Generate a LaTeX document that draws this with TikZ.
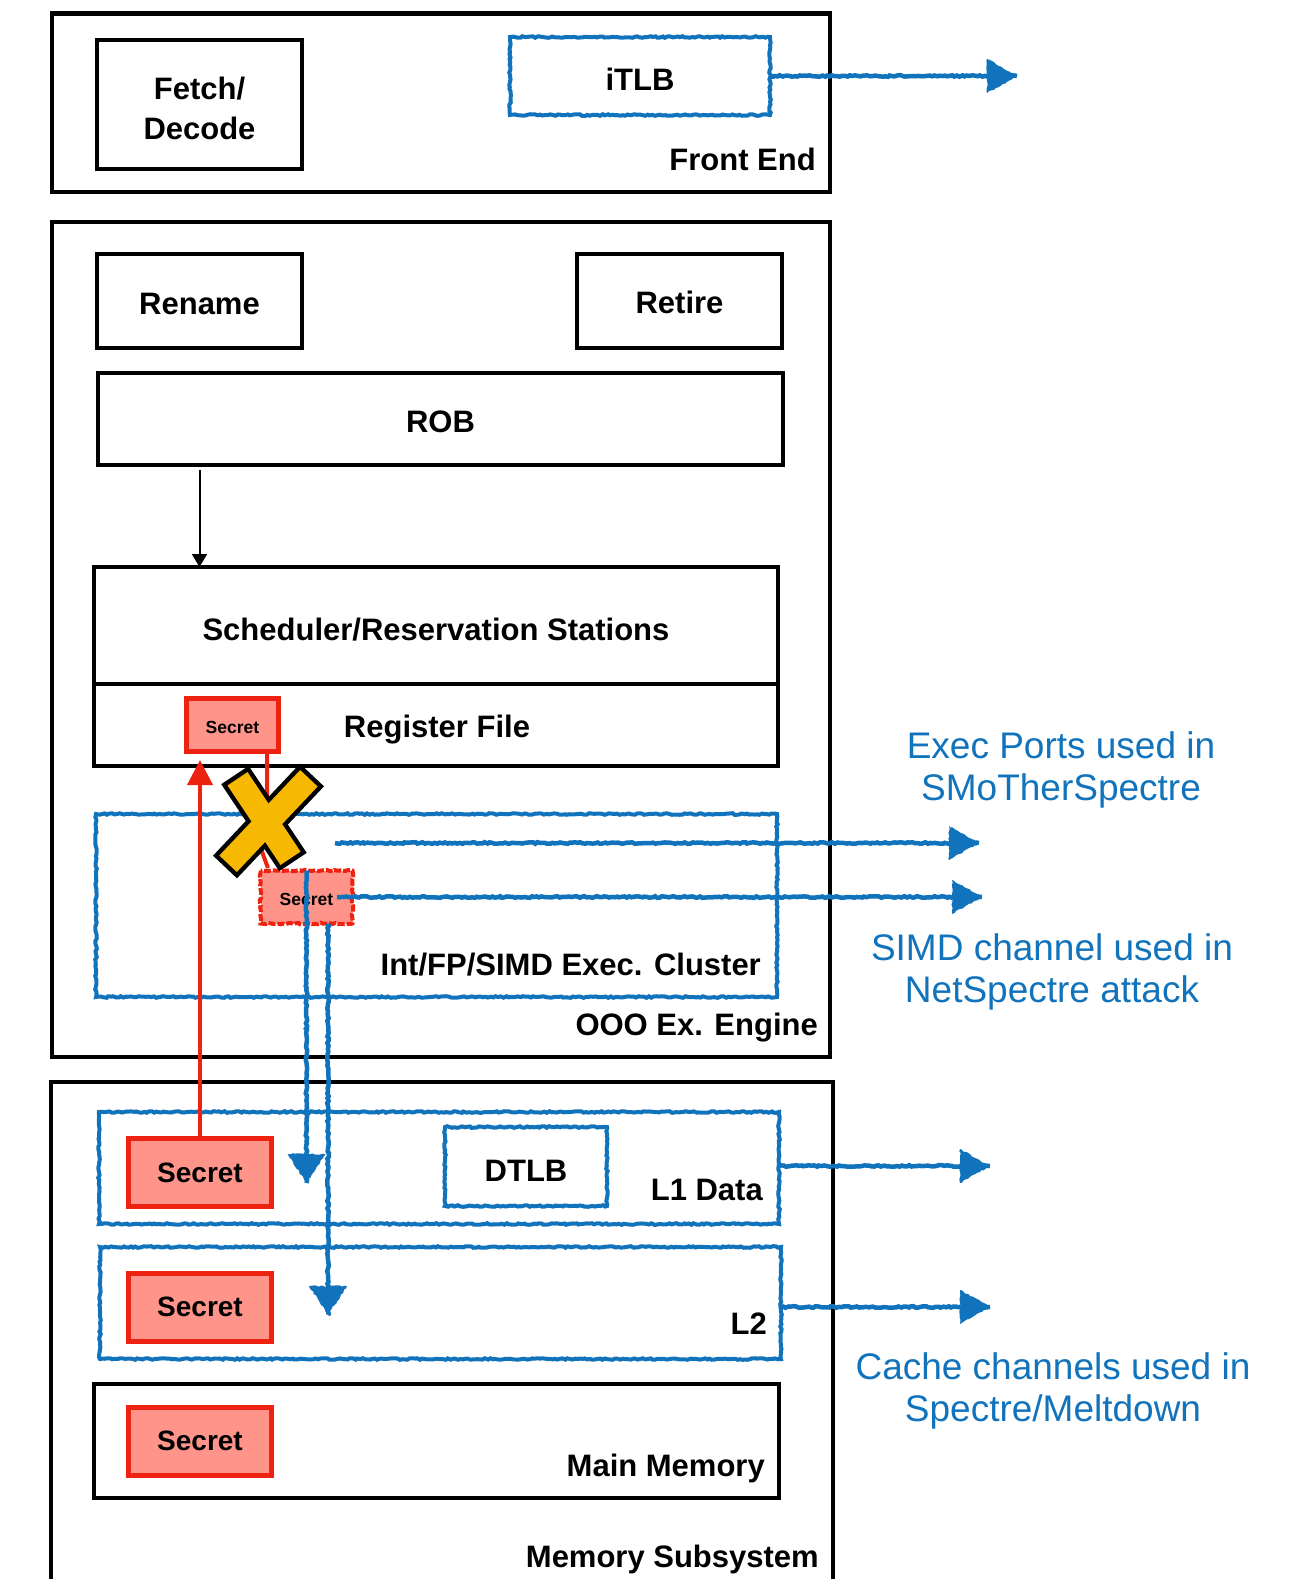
\documentclass[tikz,border=0pt]{standalone}
\usepackage{fontspec}
\setmainfont{Liberation Sans}
\usetikzlibrary{arrows.meta,decorations.pathmorphing,calc}
\definecolor{myblue}{RGB}{17,115,188}
\definecolor{secred}{RGB}{238,34,16}
\definecolor{secfill}{RGB}{255,148,138}
\definecolor{xyellow}{RGB}{246,184,0}
\tikzset{
  lbl/.style={font=\fontsize{31}{40}\selectfont\bfseries},
  cornerlbl/.style={lbl, inner sep=0pt, anchor=base east},
  blk/.style={draw, line width=4.5pt, inner sep=0pt, outer sep=0pt, lbl, align=center},
  rough/.style={decorate, decoration={random steps, segment length=2.5pt, amplitude=0.8pt}},
  bbox/.style={draw=myblue, line width=4pt, inner sep=0pt, outer sep=0pt, rough, lbl},
  bline/.style={draw=myblue, line width=4.5pt, rough},
  secbox/.style={draw=secred, fill=secfill, line width=5pt, inner sep=0pt, outer sep=0pt,
    font=\fontsize{28}{34}\selectfont\bfseries},
  smallsec/.style={secbox, font=\fontsize{17.5}{20}\selectfont\bfseries},
  bluetxt/.style={text=myblue, align=center, font=\fontsize{37}{42}\selectfont},
  headR/.pic={\fill[myblue, rough] (0,0) -- (-30,-17) -- (-30,17) -- cycle;},
  headD/.pic={\fill[myblue, rough] (0,0) -- (-19,-29) -- (19,-29) -- cycle;},
}
\begin{document}
\begin{tikzpicture}[x=1pt, y=-1pt]
\path[use as bounding box, clip] (0,0) rectangle (1297,1579);
\fill[white] (0,0) rectangle (1297,1579);

% ---- Front end ----
\node[blk, minimum width=778pt, minimum height=178.5pt] (fe) at (441,102.75) {};
\node[blk, minimum width=205pt, minimum height=129pt] (fetch) at (199.5,104.5) {};
\node[lbl, align=center] (fetchlab) at (199.5,108) {Fetch/\\Decode};
\node[bbox, minimum width=260pt, minimum height=78pt] (itlb) at (640,76) {};
\node[lbl] (itlblab) at (640,79.5) {iTLB};
\node[cornerlbl] (felab) at (816,170) {Front End};

% ---- Out-of-order engine ----
\node[blk, minimum width=778pt, minimum height=835pt] (ooo) at (441,639.5) {};
\node[blk, minimum width=205pt, minimum height=94pt] (rename) at (199.5,301) {};
\node[lbl] (renamelab) at (199.5,304) {Rename};
\node[blk, minimum width=205pt, minimum height=94pt] (retire) at (679.5,301) {};
\node[lbl] (retirelab) at (679.5,302) {Retire};
\node[blk, minimum width=685pt, minimum height=92pt] (rob) at (440.5,419) {};
\node[lbl] (roblab) at (440.5,422) {ROB};
\node[blk, minimum width=684pt, minimum height=117pt] (sched) at (436,625.5) {};
\node[lbl] (schedlab) at (436,630) {Scheduler/Reservation Stations};
\node[blk, minimum width=684pt, minimum height=82pt] (regf) at (436,725) {};
\node[lbl] (regflab) at (437,730) {Register File};
\node[smallsec, minimum width=92pt, minimum height=53pt] (rfsec) at (232.5,725) {};
\node[font=\fontsize{17.5}{20}\selectfont\bfseries] (rfseclab) at (232.5,727) {Secret};
\node[bbox, minimum width=681pt, minimum height=183pt] (exec) at (436.5,905.5) {};
\node[cornerlbl] (execlab) at (761,975) {Int/FP/SIMD Exec. Cluster};
\node[cornerlbl] (ooolab) at (818,1035) {OOO Ex. Engine};

% ---- Memory subsystem ----
\node[blk, minimum width=782pt, minimum height=518pt] (mem) at (442,1341) {};
\node[bbox, minimum width=680pt, minimum height=112pt] (l1) at (439,1168) {};
\node[bbox, minimum width=162pt, minimum height=79pt] (dtlb) at (526,1166.5) {};
\node[lbl] (dtlblab) at (526,1170.5) {DTLB};
\node[cornerlbl] (l1lab) at (763,1200) {L1 Data};
\node[secbox, minimum width=143pt, minimum height=68pt] (l1sec) at (200,1172.5) {Secret};
\node[bbox, minimum width=681pt, minimum height=112pt] (l2) at (440.5,1303) {};
\node[cornerlbl] (l2lab) at (767,1334) {L2};
\node[secbox, minimum width=143pt, minimum height=68pt] (l2sec) at (200,1307) {Secret};
\node[blk, minimum width=685pt, minimum height=114pt] (mm) at (436.5,1441) {};
\node[cornerlbl] (mmlab) at (765,1476) {Main Memory};
\node[secbox, minimum width=143pt, minimum height=68pt] (mmsec) at (200,1441) {Secret};
\node[cornerlbl] (memlab) at (819,1567) {Memory Subsystem};

% ---- ROB to scheduler ----
\coordinate (robout) at (199.5,470);
\draw[line width=2pt, -{Triangle[length=13pt,width=15pt]}] (robout) -- (robout |- sched.north);

% ---- transient copy of the secret ----
\draw[secred, line width=4pt] ($(rfsec.south east)+(-11.5,0)$) -- ++(0,50) -- (257,838) -- (268,868);
\node[secbox, draw=none, minimum width=92pt, minimum height=53pt] (dsec) at (306.5,897) {};
\draw[secred, line width=4pt, rough, dash pattern=on 7pt off 2pt] (dsec.north west) rectangle (dsec.south east);
\node[font=\fontsize{17.5}{20}\selectfont\bfseries] (dseclab) at (306.5,899) {Secret};

% ---- leakage channels ----
\coordinate (tfe) at (1017,76);
\draw[bline] (itlb.east) -- (tfe);
\pic at (tfe) {headR};

\coordinate (ep) at (335,843);
\coordinate (tep) at (979,843);
\draw[bline] (ep) -- (tep);
\pic at (tep) {headR};

\coordinate (tsimd) at (982,897);
\draw[bline] ($(dsec.center)+(30.5,0)$) -- (tsimd);
\pic at (tsimd) {headR};

\coordinate (td1) at (307,1183);
\draw[bline] (dsec.north) -- (dsec.north |- td1);
\pic at (dsec.north |- td1) {headD};

\coordinate (td2) at (328,1315);
\draw[bline] ($(dsec.south)+(21.5,0)$) -- (td2);
\pic at (td2) {headD};

\coordinate (tl1) at (990,1166);
\draw[bline] (l1.east |- tl1) -- (tl1);
\pic at (tl1) {headR};

\coordinate (tl2) at (990,1307);
\draw[bline] (l2.east |- tl2) -- (tl2);
\pic at (tl2) {headR};

% ---- secret loaded into the register file ----
\draw[secred, line width=4pt, -{Triangle[length=25pt,width=25pt]}, shorten >=8.5pt]
  (l1sec.north) -- (l1sec.north |- rfsec.south);

% ---- blocked path ----
\draw[line width=33pt] (235,775) -- (293,862);
\draw[line width=33pt] (312,775) -- (225,867);
\draw[xyellow, line width=24pt, shorten <=4.5pt, shorten >=4.5pt] (235,775) -- (293,862);
\draw[xyellow, line width=24pt, shorten <=4.5pt, shorten >=4.5pt] (312,775) -- (225,867);

% ---- channel notes ----
\node[bluetxt] (n1) at (1061,770) {Exec Ports used in\\SMoTherSpectre};
\node[bluetxt] (n2) at (1052,972) {SIMD channel used in\\NetSpectre attack};
\node[bluetxt] (n3) at (1053,1391) {Cache channels used in\\Spectre/Meltdown};
\end{tikzpicture}
\end{document}
